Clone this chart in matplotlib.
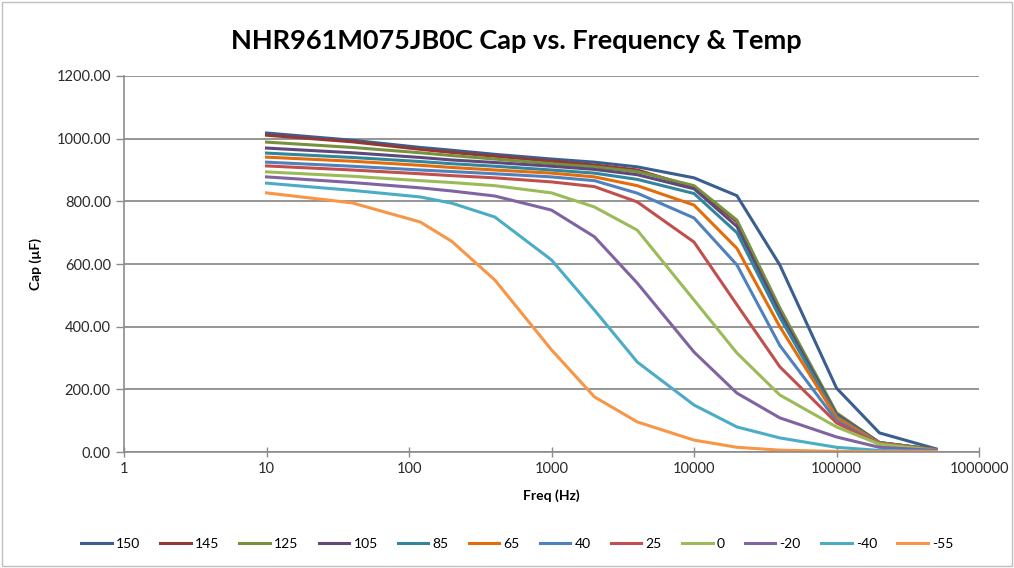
import matplotlib.pyplot as plt
from matplotlib.ticker import FixedLocator, FixedFormatter, NullLocator

# frecuencias (Hz)
freq = [10, 40, 120, 200, 400, 1000, 2000, 4000, 10000, 20000, 40000, 100000, 200000, 500000]

# capacitancia (uF) por temperatura
cap_150 = [1018, 995, 972, 963, 950, 935, 925, 910, 875, 818, 597, 204, 61, 10]
cap_145 = [1011, 990, 966, 956, 944, 928, 916, 900, 845, 735, 455, 122, 30, 8]
cap_125 = [989, 972, 955, 946, 935, 920, 910, 895, 850, 740, 460, 125, 30, 8]
cap_105 = [970, 955, 940, 932, 924, 912, 902, 885, 840, 720, 445, 120, 30, 7]
cap_85 = [954, 940, 927, 920, 912, 900, 890, 870, 825, 700, 430, 115, 30, 7]
cap_65 = [941, 928, 915, 908, 900, 890, 878, 850, 788, 650, 400, 110, 28, 7]
cap_40 = [925, 912, 900, 895, 888, 878, 866, 826, 747, 597, 340, 100, 25, 6]
cap_25 = [913, 900, 888, 882, 875, 862, 847, 798, 670, 470, 272, 93, 25, 5]
cap_0 = [894, 880, 866, 860, 850, 827, 782, 708, 485, 316, 182, 80, 25, 5]
cap_m20 = [878, 860, 843, 833, 817, 772, 687, 539, 319, 188, 109, 48, 15, 5]
cap_m40 = [858, 835, 814, 794, 750, 613, 453, 287, 150, 80, 45, 15, 5, 2]
cap_m55 = [827, 795, 734, 672, 549, 326, 176, 96, 38, 15, 6, 2, 1, 1]

series = [
    ('150', cap_150, '#3A5F8F'),
    ('145', cap_145, '#953735'),
    ('125', cap_125, '#76923C'),
    ('105', cap_105, '#5F497A'),
    ('85', cap_85, '#31859C'),
    ('65', cap_65, '#E46C0A'),
    ('40', cap_40, '#4F81BD'),
    ('25', cap_25, '#C0504D'),
    ('0', cap_0, '#9BBB59'),
    ('-20', cap_m20, '#8064A2'),
    ('-40', cap_m40, '#4BACC6'),
    ('-55', cap_m55, '#F79646'),
]

plt.rcParams['font.family'] = ['Lato', 'DejaVu Sans']

fig = plt.figure(figsize=(10.14, 5.68), dpi=100)
ax = fig.add_axes([0.1223, 0.2042, 0.8432, 0.6620])

for nombre, vals, col in series:
    ax.plot(freq, vals, color=col, lw=2.2, label=nombre)

ax.set_xscale('log')
ax.set_xlim(1, 1000000)
ax.set_ylim(0, 1200)
xt = [1, 10, 100, 1000, 10000, 100000, 1000000]
ax.xaxis.set_major_locator(FixedLocator(xt))
ax.xaxis.set_major_formatter(FixedFormatter([str(v) for v in xt]))
ax.xaxis.set_minor_locator(NullLocator())
yt = [0, 200, 400, 600, 800, 1000, 1200]
ax.set_yticks(yt)
ax.set_yticklabels(['%.2f' % v for v in yt])

ax.grid(axis='y', color='#8C8C8C', lw=1.3)
ax.set_axisbelow(True)
for s in ['top', 'right']:
    ax.spines[s].set_visible(False)
for s in ['left', 'bottom']:
    ax.spines[s].set_color('#8C8C8C')
    ax.spines[s].set_linewidth(1.2)
ax.tick_params(axis='both', direction='inout', length=7, color='#8C8C8C',
               labelsize=10.5, labelcolor='#2A2A2A', width=1)
ax.tick_params(axis='y', direction='out', length=6)

fig.text(0.509, 0.928, 'NHR961M075JB0C Cap vs. Frequency & Temp', fontsize=19.5,
         fontweight='bold', ha='center', va='center')
ax.set_ylabel('Cap (µF)', fontsize=10, fontweight='bold', labelpad=10)
ax.set_xlabel('Freq (Hz)', fontsize=10, fontweight='bold', labelpad=10)

fig.legend(loc='lower center', ncol=12, frameon=False, fontsize=10,
           handlelength=2.2, handletextpad=0.3, columnspacing=1.45,
           bbox_to_anchor=(0.51, 0.01))

fig.patches.append(plt.Rectangle((0.002, 0.003), 0.996, 0.994, transform=fig.transFigure,
                                 fill=False, edgecolor='#BFBFBF', lw=1))

fig.savefig('out.png', dpi=100)
